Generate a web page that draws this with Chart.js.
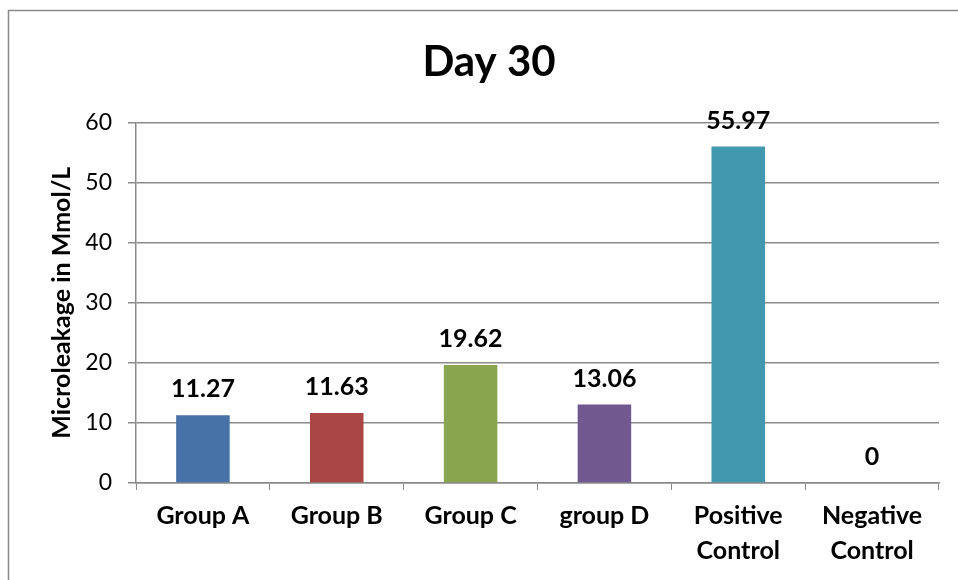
<!DOCTYPE html>
<html>
<head>
<meta charset="utf-8">
<script src="https://cdn.jsdelivr.net/npm/chart.js@4"></script>
<style>
  html, body { margin: 0; padding: 0; background: #fff; }
  #wrap { width: 958px; height: 580px; }
</style>
</head>
<body>
<div id="wrap"><canvas id="c" width="958" height="580"></canvas></div>
<script>
// Microleakage measured at day 30 for each group
const categories = [["Group A"], ["Group B"], ["Group C"], ["group D"], ["Positive", "Control"], ["Negative", "Control"]];
const values = [11.27, 11.63, 19.62, 13.06, 55.97, 0];
const barColors = ["#4672A8", "#AA4744", "#89A54E", "#71588F", "#4198AF", "#DB843D"];
const yTicks = [0, 10, 20, 30, 40, 50, 60];

const FONT = "Lato, 'Open Sans', 'DejaVu Sans', sans-serif";
const GRID = "#8a8a8a";

// Thin frame around the whole chart
const framePlugin = {
  id: "frame",
  beforeDraw(chart) {
    const ctx = chart.ctx;
    ctx.save();
    ctx.strokeStyle = "#8a8a8a";
    ctx.lineWidth = 1.5;
    ctx.beginPath();
    ctx.moveTo(8.5, chart.height + 5);
    ctx.lineTo(8.5, 10.5);
    ctx.lineTo(chart.width + 5, 10.5);
    ctx.stroke();
    ctx.restore();
  }
};

// Value printed above each bar
const valueLabels = {
  id: "valueLabels",
  afterDatasetsDraw(chart) {
    const ctx = chart.ctx;
    const meta = chart.getDatasetMeta(0);
    const data = chart.data.datasets[0].data;
    ctx.save();
    ctx.font = "bold 25px " + FONT;
    ctx.fillStyle = "#000";
    ctx.textAlign = "center";
    ctx.textBaseline = "alphabetic";
    meta.data.forEach((bar, i) => {
      ctx.fillText(String(data[i]), bar.x, bar.y - 18);
    });
    ctx.restore();
  }
};

new Chart(document.getElementById("c"), {
  type: "bar",
  data: {
    labels: categories,
    datasets: [{
      data: values,
      backgroundColor: barColors,
      borderWidth: 0,
      barPercentage: 0.4,
      categoryPercentage: 1.0
    }]
  },
  options: {
    responsive: false,
    animation: false,
    devicePixelRatio: 1,
    layout: { padding: { left: 39, right: 19, top: 0, bottom: 0 } },
    plugins: {
      legend: { display: false },
      tooltip: { enabled: false },
      title: {
        display: true,
        text: "Day 30",
        color: "#000",
        font: { family: FONT, size: 42, weight: "bold", lineHeight: 1.2 },
        padding: { top: 37, bottom: 35 }
      }
    },
    scales: {
      x: {
        grid: {
          display: true,
          drawOnChartArea: false,
          drawTicks: true,
          tickLength: 7,
          color: GRID,
          offset: true
        },
        border: { display: true, color: GRID, width: 1.5 },
        ticks: {
          color: "#000",
          font: { family: FONT, size: 25, weight: "bold", lineHeight: 1.42 },
          padding: 8,
          maxRotation: 0,
          autoSkip: false
        },
        afterFit(scale) { scale.height = 97; }
      },
      y: {
        min: 0,
        max: 60,
        afterBuildTicks(scale) { scale.ticks = yTicks.map(v => ({ value: v })); },
        grid: { color: GRID, lineWidth: 1.5, tickLength: 8 },
        border: { display: true, color: GRID, width: 1.5 },
        ticks: {
          color: "#000",
          font: { family: FONT, size: 23 },
          padding: 16
        },
        title: {
          display: true,
          text: "Microleakage in Mmol/L",
          color: "#000",
          font: { family: FONT, size: 25, weight: "bold", lineHeight: 1.2 },
          padding: { top: 8, bottom: 0 }
        },
        afterFit(scale) { scale.width = 97; }
      }
    }
  },
  plugins: [framePlugin, valueLabels]
});
</script>
</body>
</html>
